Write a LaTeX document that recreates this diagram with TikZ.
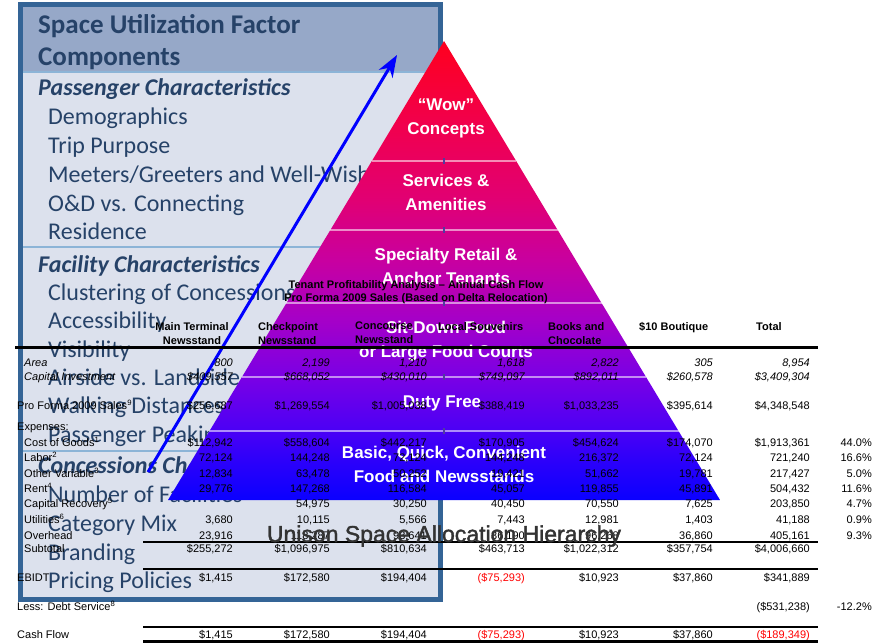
\documentclass[tikz,border=0pt]{standalone}
\usepackage{fontspec}
\setmainfont{Liberation Sans}
\newfontfamily\panelfont{Carlito}
\newfontfamily\captionfont{Liberation Sans}[FakeBold=1.6]
\usepackage{tikz}
\usetikzlibrary{arrows.meta}
\usetikzlibrary{calc}

\definecolor{panelblue}{RGB}{52,100,150}
\definecolor{panelfill}{RGB}{220,225,237}
\definecolor{headfill}{RGB}{150,168,200}
\definecolor{panelrule}{RGB}{140,180,215}
\definecolor{paneltext}{RGB}{38,66,104}
\definecolor{pyrA}{RGB}{10,0,255}
\definecolor{pyrB}{RGB}{45,0,250}
\definecolor{pyrC}{RGB}{75,0,245}
\definecolor{pyrD}{RGB}{120,0,230}
\definecolor{pyrE}{RGB}{165,0,200}
\definecolor{pyrF}{RGB}{200,0,160}
\definecolor{pyrG}{RGB}{225,0,115}
\definecolor{pyrH}{RGB}{240,0,80}
\definecolor{pyrI}{RGB}{255,0,30}

\pgfdeclareverticalshading{pyramidshade}{100bp}{color(0bp)=(pyrA); color(25bp)=(pyrA);
  color(29.4bp)=(pyrB); color(32.6bp)=(pyrC); color(38.1bp)=(pyrD); color(44.6bp)=(pyrE);
  color(51.1bp)=(pyrF); color(57.7bp)=(pyrG); color(65.3bp)=(pyrH); color(75bp)=(pyrI);
  color(100bp)=(pyrI)}

\tikzset{
  paneltitle/.style={anchor=base west, inner sep=0pt, text=paneltext, font=\panelfont\bfseries\fontsize{27}{32}\selectfont},
  panelhead/.style={anchor=base west, inner sep=0pt, text=paneltext, font=\panelfont\bfseries\itshape\fontsize{24}{29}\selectfont},
  panelitem/.style={anchor=base west, inner sep=0pt, text=paneltext, font=\panelfont\fontsize{24}{29}\selectfont},
  tier/.style={align=center, inner sep=0pt, text=white, font=\bfseries\fontsize{17}{24}\selectfont},
  tierline/.style={draw=white, draw opacity=0.55, line width=1.2pt},
  cell/.style={anchor=base east, inner sep=0pt, font=\fontsize{11}{13}\selectfont},
  rowlabel/.style={anchor=base west, inner sep=0pt, font=\fontsize{11}{13}\selectfont},
  colhead/.style={anchor=north west, inner sep=0pt, align=left, font=\bfseries\fontsize{11}{14}\selectfont},
  pointer/.style={draw=blue, line width=3pt, -{Stealth[length=22pt,width=16pt]}}
}

\begin{document}
\begin{tikzpicture}[x=1pt, y=-1pt]
  \useasboundingbox (0,0) rectangle (875,643);

  % panel
  \fill[panelfill] (18,2) rectangle (443,602);
  \fill[headfill] (23,7) rectangle (438,72);
  \foreach \y in {72,247,451}
    \draw[panelrule, line width=2pt] (23,\y) -- (438,\y);
  \draw[panelblue, line width=5pt] (20.5,4.5) rectangle (440.5,599.5);

  \node[paneltitle] (title1) at (38,33) {Space Utilization Factor};
  \node[paneltitle] (title2) at (38,65) {Components};
  \node[panelhead] (passenger) at (38,95) {Passenger Characteristics};
  \node[panelhead] (facility) at (38,272) {Facility Characteristics};
  \node[panelhead] (concessions) at (38,473) {Concessions Characteristics};
  \foreach \y/\t in {124/Demographics, 153/Trip Purpose, 182/{Meeters/Greeters and Well-Wishers},
      211/{O\&D vs. Connecting}, 239/Residence, 300/Clustering of Concessions, 328/Accessibility,
      357/Visibility, 385/Airside vs. Landside, 413/Walking Distances, 442/Passenger Peaking,
      502/Number of Facilities, 531/Category Mix, 560/Branding, 588/Pricing Policies}
    \node[panelitem] (item-\y) at (48,\y) {\t};

  % arrow
  \coordinate (arrowstart) at (148,472);
  \coordinate (arrowtip) at (397,55);
  \draw[pointer] (arrowstart) -- (arrowtip);

  % pyramid
  \coordinate (apex) at (444,41);
  \coordinate (baseleft) at (168,500);
  \coordinate (baseright) at (720,500);
  \begin{scope}
    \clip (apex) -- (baseleft) -- (baseright) -- cycle;
    \shade[shading=pyramidshade] (168,41) rectangle (720,500);
  \end{scope}
  \foreach \y in {161,230,303,377,431} {
    \draw[tierline] ($(apex)!{(\y-41)/459}!(baseleft)$) -- ($(apex)!{(\y-41)/459}!(baseright)$);
    \draw[line width=2pt, draw={rgb,255:red,80;green,60;blue,160}] (444,\y-3) -- (444,\y+3);
  }
  \node[tier] (wow) at (446,118) {``Wow''\\Concepts};
  \node[tier] (services) at (446,192) {Services \&\\Amenities};
  \node[tier] (specialty) at (446,266) {Specialty Retail \&\\Anchor Tenants};
  \node[tier] (sitdown) at (446,341) {Sit-Down Food\\or Large Food Courts};
  \node[tier] (dutyfree) at (442,403) {Duty Free};
  \node[tier] (basic) at (444,464) {Basic, Quick, Convenient\\Food and Newsstands};

  % table
  \node[align=center, inner sep=0pt, anchor=north, font=\bfseries\fontsize{11}{13}\selectfont] (tabtitle) at (416,280)
    {Tenant Profitability Analysis -- Annual Cash Flow\\Pro Forma 2009 Sales (Based on Delta Relocation)};
  \node[colhead, align=center, anchor=north] (hmain) at (192,322) {Main Terminal\\Newsstand};
  \node[colhead] (hcheck) at (258,322) {Checkpoint\\Newsstand};
  \node[colhead] (hconc) at (355,322) {Concourse\\Newsstand};
  \node[colhead] (hlocal) at (438,322) {Local Souvenirs};
  \node[colhead] (hbooks) at (548,322) {Books and\\Chocolate};
  \node[colhead] (hboutique) at (639,322) {\$10 Boutique};
  \node[colhead] (htotal) at (756,322) {Total};

  \foreach \x/\y/\t [count=\i] in {24/366/{\itshape Area}, 24/380/{\itshape Capital Investment},
      17/409/{Pro Forma 2009 Sales\textsuperscript{9}}, 17/430/{Expenses:},
      24/446/{Cost of Goods\textsuperscript{1}}, 24/461/{Labor\textsuperscript{2}},
      24/477/{Other Variable\textsuperscript{3}}, 24/492/{Rent\textsuperscript{4}},
      24/507/{Capital Recovery\textsuperscript{5}}, 24/523/{Utilities\textsuperscript{6}},
      24/539/Overhead, 24/552/Subtotal, 17/581/EBIDT,
      17/610/{Less: Debt Service\textsuperscript{8}}, 17/638/Cash Flow}
    \node[rowlabel] (label-\i) at (\x,\y) {\t};

  \def\colx{{233,330,427,525,619,713,810,872}}
  \foreach \y/\fnt/\first/\vals [count=\r] in {
      366/\itshape/1/{{800},{2,199},{1,210},{1,618},{2,822},{305},{8,954}},
      380/\itshape/1/{{\$409,557},{\$668,052},{\$430,010},{\$749,097},{\$892,011},{\$260,578},{\$3,409,304}},
      409/\upshape/1/{{\$256,687},{\$1,269,554},{\$1,005,038},{\$388,419},{\$1,033,235},{\$395,614},{\$4,348,548}},
      446/\upshape/1/{{\$112,942},{\$558,604},{\$442,217},{\$170,905},{\$454,624},{\$174,070},{\$1,913,361},{44.0\%}},
      461/\upshape/1/{{72,124},{144,248},{72,124},{144,248},{216,372},{72,124},{721,240},{16.6\%}},
      477/\upshape/1/{{12,834},{63,478},{50,252},{19,421},{51,662},{19,781},{217,427},{5.0\%}},
      492/\upshape/1/{{29,776},{147,268},{116,584},{45,057},{119,855},{45,891},{504,432},{11.6\%}},
      507/\upshape/2/{{54,975},{30,250},{40,450},{70,550},{7,625},{203,850},{4.7\%}},
      523/\upshape/1/{{3,680},{10,115},{5,566},{7,443},{12,981},{1,403},{41,188},{0.9\%}},
      539/\upshape/1/{{23,916},{118,287},{93,641},{36,190},{96,268},{36,860},{405,161},{9.3\%}},
      552/\upshape/1/{{\$255,272},{\$1,096,975},{\$810,634},{\$463,713},{\$1,022,312},{\$357,754},{\$4,006,660}},
      581/\upshape/1/{{\$1,415},{\$172,580},{\$194,404},{\textcolor{red}{(\$75,293)}},{\$10,923},{\$37,860},{\$341,889}},
      610/\upshape/7/{{(\$531,238)},{-12.2\%}},
      638/\upshape/1/{{\$1,415},{\$172,580},{\$194,404},{\textcolor{red}{(\$75,293)}},{\$10,923},{\$37,860},{\textcolor{red}{(\$189,349)}}}}
  {
    \foreach \v [count=\c from \first] in \vals {
      \pgfmathsetmacro{\cx}{\colx[\c-1]}
      \node[cell] (cell-\r-\c) at (\cx,\y) {\fnt\v};
    }
  }

  \draw[line width=3pt] (15,347) -- (818,347);
  \draw[line width=1.8pt] (143,542) -- (818,542);
  \draw[line width=2pt] (143,569) -- (818,569);
  \draw[line width=2.2pt] (143,627) -- (818,627);
  \draw[line width=3pt] (143,641) -- (818,641);

  % caption
  \node[anchor=base, inner sep=0pt, text=black!80, font=\captionfont\fontsize{23}{27}\selectfont] (caption) at (444,542)
    {Unison Space Allocation Hierarchy};
\end{tikzpicture}
\end{document}
